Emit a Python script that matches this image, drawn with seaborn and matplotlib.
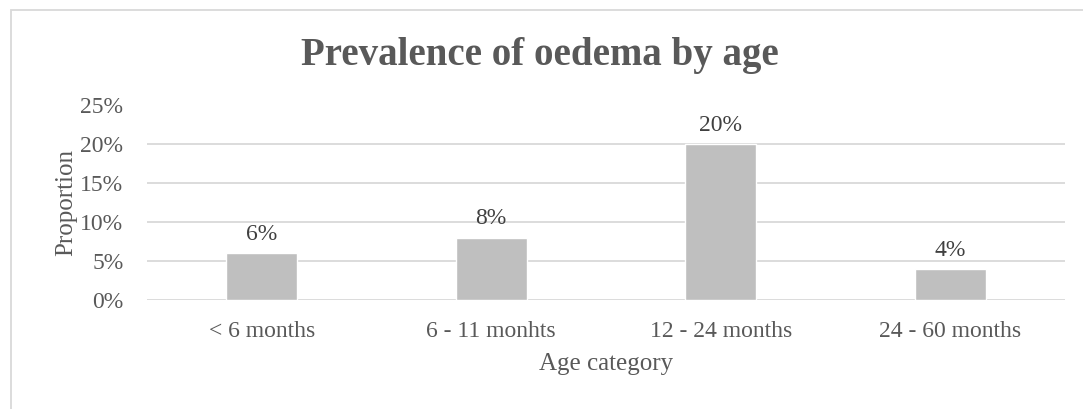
import matplotlib
matplotlib.use("Agg")
import matplotlib.pyplot as plt
from matplotlib.patches import Rectangle
from matplotlib.ticker import FuncFormatter, MultipleLocator
import seaborn as sns
import pandas as pd

categories = ["< 6 months", "6 - 11 monhts", "12 - 24 months", "24 - 60 months"]
proportions = [0.06, 0.08, 0.20, 0.04]
value_labels = ["6%", "8%", "20%", "4%"]

sns.set_theme(style="white")
plt.rcParams["font.family"] = ["Liberation Serif", "DejaVu Serif"]

W, H = 1083, 409
fig = plt.figure(figsize=(W / 100, H / 100), dpi=100)
ax = fig.add_axes([147 / W, 1 - 300 / H, (1065 - 147) / W, (300 - 105.5) / H])

# chart-area frame (open at right and bottom)
fig.patches.append(Rectangle((10.5 / W, -0.1), 1.2, 1 - 9.5 / H + 0.1,
                             transform=fig.transFigure, fill=False,
                             edgecolor="#d9d9d9", linewidth=1.3, zorder=0))

df = pd.DataFrame({"Age category": categories, "Proportion": proportions})
sns.barplot(data=df, x="Age category", y="Proportion", color="#bfbfbf",
            saturation=1, width=0.31, ax=ax, zorder=3)

ax.set_ylim(0, 0.25)
ax.yaxis.set_major_locator(MultipleLocator(0.05))
ax.yaxis.set_major_formatter(FuncFormatter(lambda v, _: f"{v * 100:.0f}%"))
ax.grid(axis="y", color="#d9d9d9", linewidth=1.3, zorder=0)
ax.set_axisbelow(True)
for s in ax.spines.values():
    s.set_visible(False)
ax.tick_params(axis="both", length=0, labelsize=17, colors="#595959")
ax.tick_params(axis="y", pad=17)
ax.tick_params(axis="x", pad=15)

for patch, lab in zip(ax.patches, value_labels):
    ax.annotate(lab, (patch.get_x() + patch.get_width() / 2, patch.get_height()),
                xytext=(0, 6), textcoords="offset points", ha="center", va="bottom",
                fontsize=17, color="#404040")

ax.set_xlabel("Age category", fontsize=18, color="#595959", labelpad=8)
ax.set_ylabel("Proportion", fontsize=18, color="#595959", labelpad=2)

fig.text(540 / W, 1 - 55 / H, "Prevalence of oedema by age", ha="center", va="center",
         fontsize=28, fontweight="bold", color="#595959")

fig.savefig("out.png", dpi=100, facecolor="white")
